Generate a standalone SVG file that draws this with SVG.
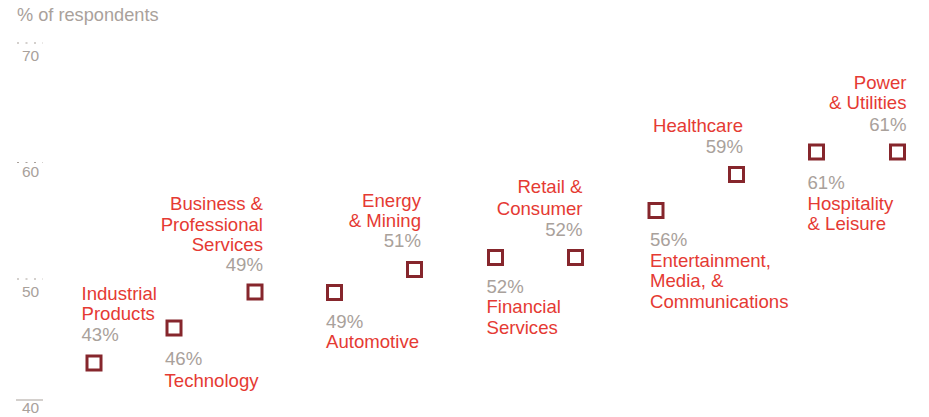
<svg xmlns="http://www.w3.org/2000/svg" width="929" height="417" viewBox="0 0 929 417">
<style>
text{font-family:"Liberation Sans",Arial,sans-serif}
.ax{fill:#A9A19B;font-size:15.5px}
.ttl{fill:#A9A19B;font-size:18.2px}
.lab{fill:#E53A33;font-size:18.6px}
.pct{fill:#A9A19B;font-size:18.6px}
.e{text-anchor:end}
.m{fill:#fff;stroke:#86262C;stroke-width:3}
.dot{stroke:#A9A19B;stroke-width:1;stroke-dasharray:2 6.5}
</style>
<rect width="929" height="417" fill="#fff"/>
<text class="ttl" x="17" y="21">% of respondents</text>
<g id="axis">
<line class="dot" x1="17" y1="43" x2="43" y2="43"/>
<text class="ax" x="22" y="61">70</text>
<line class="dot" x1="17" y1="162.5" x2="43" y2="162.5"/>
<text class="ax" x="22" y="177">60</text>
<line class="dot" x1="17" y1="279" x2="43" y2="279"/>
<text class="ax" x="22" y="296.5">50</text>
<line x1="16" y1="400" x2="43" y2="400" stroke="#A9A19B" stroke-width="1"/>
<text class="ax" x="22" y="413">40</text>
</g>
<g id="industrial">
<rect class="m" x="87" y="356" width="14" height="14"/>
<text class="lab" x="81.5" y="299.5">Industrial</text>
<text class="lab" x="81.5" y="320">Products</text>
<text class="pct" x="81.5" y="340.5">43%</text>
</g>
<g id="technology">
<rect class="m" x="167" y="321" width="14" height="14"/>
<text class="pct" x="165" y="365">46%</text>
<text class="lab" x="164.5" y="386.5">Technology</text>
</g>
<g id="business">
<rect class="m" x="248" y="285" width="14" height="14"/>
<text class="lab e" x="263" y="210">Business &amp;</text>
<text class="lab e" x="263" y="230.7">Professional</text>
<text class="lab e" x="263" y="251">Services</text>
<text class="pct e" x="263" y="271">49%</text>
</g>
<g id="automotive">
<rect class="m" x="327.5" y="285.5" width="14" height="14"/>
<text class="pct" x="326" y="327.7">49%</text>
<text class="lab" x="326" y="348.3">Automotive</text>
</g>
<g id="energy">
<rect class="m" x="407.5" y="262.5" width="14" height="14"/>
<text class="lab e" x="421" y="206.7">Energy</text>
<text class="lab e" x="421" y="226.5">&amp; Mining</text>
<text class="pct e" x="421" y="247">51%</text>
</g>
<g id="financial">
<rect class="m" x="488.5" y="250.5" width="14" height="14"/>
<text class="pct" x="486.5" y="292.5">52%</text>
<text class="lab" x="486.5" y="313">Financial</text>
<text class="lab" x="486.5" y="333.5">Services</text>
</g>
<g id="retail">
<rect class="m" x="568.5" y="250.5" width="14" height="14"/>
<text class="lab e" x="582.5" y="193">Retail &amp;</text>
<text class="lab e" x="582.5" y="215">Consumer</text>
<text class="pct e" x="582.5" y="236">52%</text>
</g>
<g id="entertainment">
<rect class="m" x="649" y="203.5" width="14" height="14"/>
<text class="pct" x="650" y="246">56%</text>
<text class="lab" x="650" y="266.7">Entertainment,</text>
<text class="lab" x="650" y="287.3">Media, &amp;</text>
<text class="lab" x="650" y="308.3">Communications</text>
</g>
<g id="healthcare">
<rect class="m" x="729.5" y="167.5" width="14" height="14"/>
<text class="lab e" x="743" y="131.7">Healthcare</text>
<text class="pct e" x="743" y="153.3">59%</text>
</g>
<g id="hospitality">
<rect class="m" x="809.5" y="145" width="14" height="14"/>
<text class="pct" x="807.5" y="189.3">61%</text>
<text class="lab" x="807.5" y="209.5">Hospitality</text>
<text class="lab" x="807.5" y="230">&amp; Leisure</text>
</g>
<g id="power">
<rect class="m" x="890.5" y="145" width="14" height="14"/>
<text class="lab e" x="906.5" y="88.5">Power</text>
<text class="lab e" x="906.5" y="109.3">&amp; Utilities</text>
<text class="pct e" x="906.5" y="130.7">61%</text>
</g>
<g id="connectors"></g>
</svg>
